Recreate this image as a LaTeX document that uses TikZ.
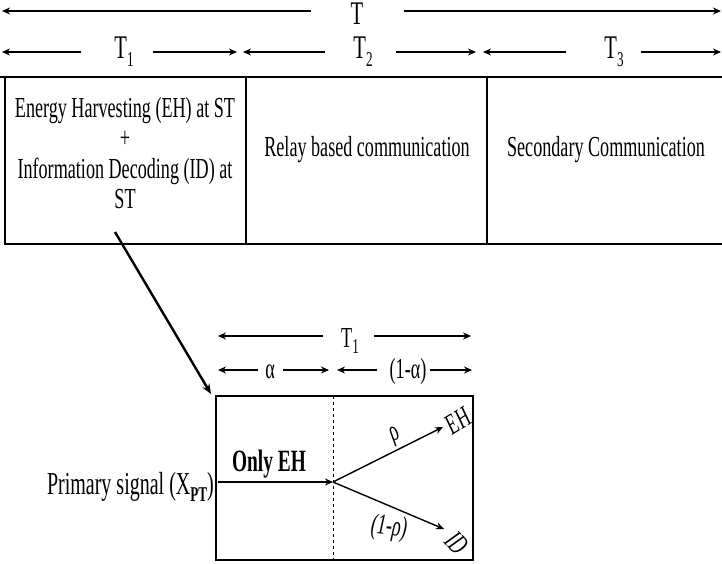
\documentclass[tikz,border=0pt]{standalone}
\usepackage{fontspec}
\setmainfont{Liberation Serif}[FakeStretch=0.625]
\usetikzlibrary{arrows.meta}
\newcommand{\lowsub}[1]{\raisebox{-0.5ex}{\fontsize{21}{21}\selectfont #1}}
\begin{document}
\begin{tikzpicture}[x=1pt,y=-1pt,
  arr/.style={-{Stealth[length=8pt,width=7pt]}, line width=1.7pt},
  thinarr/.style={-{Stealth[length=8pt,width=7pt]}, line width=1.4pt},
  lbl/.style={font=\fontsize{29}{30.5}\selectfont, inner sep=0pt},
  big/.style={font=\fontsize{33}{34}\selectfont, inner sep=0pt},
  frame/.style={line width=1.4pt}]
\useasboundingbox (0,0) rectangle (722,564);

% top row
\node[big, anchor=base] (T) at (357,25) {T};
\coordinate (Ta) at (311,11); \coordinate (Tb) at (2,11);
\coordinate (Tc) at (404,11); \coordinate (Td) at (721,11);
\draw[arr] (Ta) -- (Tb);
\draw[arr] (Tc) -- (Td);

% second row
\node[big, anchor=base] (T1) at (124,59) {T\lowsub{1}};
\node[big, anchor=base] (T2) at (363,59) {T\lowsub{2}};
\node[big, anchor=base] (T3) at (614,59) {T\lowsub{3}};
\coordinate (a1) at (81,52); \coordinate (a2) at (2,52);
\coordinate (a3) at (153,52); \coordinate (a4) at (237,52);
\coordinate (b1) at (325,52); \coordinate (b2) at (243,52);
\coordinate (b3) at (396,52); \coordinate (b4) at (476,52);
\coordinate (c1) at (566,52); \coordinate (c2) at (483,52);
\coordinate (c3) at (641,52); \coordinate (c4) at (721,52);
\draw[arr] (a1) -- (a2); \draw[arr] (a3) -- (a4);
\draw[arr] (b1) -- (b2); \draw[arr] (b3) -- (b4);
\draw[arr] (c1) -- (c2); \draw[arr] (c3) -- (c4);

% big box
\draw[frame] (0,77) -- (722,77);
\draw[frame] (5,77) -- (5,244) -- (722,244);
\draw[frame] (246,77) -- (246,244);
\draw[frame] (487,77) -- (487,244);

\node[lbl, align=center] (eh) at (125,153) {Energy Harvesting (EH) at ST\\+\\Information Decoding (ID) at\\ST};
\node[lbl] (relay) at (367,150) {Relay based communication};
\node[lbl] (sec) at (606,150) {Secondary Communication};

% zoom arrow
\coordinate (z1) at (115,232); \coordinate (z2) at (211,394);
\draw[-{Stealth[length=10pt,width=8pt]}, line width=2.4pt] (z1) -- (z2);

% lower labels
\node[lbl, anchor=base] (T1b) at (350,347) {T\lowsub{1}};
\coordinate (d1) at (323,336); \coordinate (d2) at (218,336);
\coordinate (d3) at (374,336); \coordinate (d4) at (471,336);
\draw[arr] (d1) -- (d2); \draw[arr] (d3) -- (d4);

\node[lbl, anchor=base] (al) at (270,378) {α};
\node[lbl, anchor=base] (oal) at (408,378) {(1-α)};
\coordinate (e1) at (258,370); \coordinate (e2) at (218,370);
\coordinate (e3) at (283,370); \coordinate (e4) at (329,370);
\coordinate (f1) at (377,370); \coordinate (f2) at (337,370);
\coordinate (f3) at (430,370); \coordinate (f4) at (472,370);
\draw[arr] (e1) -- (e2); \draw[arr] (e3) -- (e4);
\draw[arr] (f1) -- (f2); \draw[arr] (f3) -- (f4);

% lower box
\draw[frame] (216,396) rectangle (473,560);
\draw[line width=1pt, dashed] (333,396) -- (333,560);

\node[font=\fontsize{32}{33}\selectfont, inner sep=0pt, anchor=base east] (ps) at (214,494) {Primary signal (X\lowsub{\textbf{PT}})};
\node[font=\fontsize{31}{32}\selectfont\bfseries, inner sep=0pt, anchor=base] (only) at (269,471) {Only EH};
\coordinate (s0) at (218,482); \coordinate (sp) at (333,482);
\draw[arr] (s0) -- (sp);

\coordinate (ehend) at (443,427); \coordinate (idend) at (444,529);
\draw[thinarr] (sp) -- (ehend);
\draw[thinarr] (sp) -- (idend);
\node[lbl, rotate=32, font=\fontsize{29}{30}\selectfont\itshape] (ehl) at (458,421) {EH};
\node[lbl, rotate=-48, font=\fontsize{29}{30}\selectfont\itshape] (idl) at (457,543) {ID};
\node[lbl, rotate=20] (rho) at (395,436) {ρ};
\node[lbl, rotate=-6, font=\fontsize{29}{30}\selectfont\itshape] (orho) at (389,528) {(1-ρ)};
\end{tikzpicture}
\end{document}
